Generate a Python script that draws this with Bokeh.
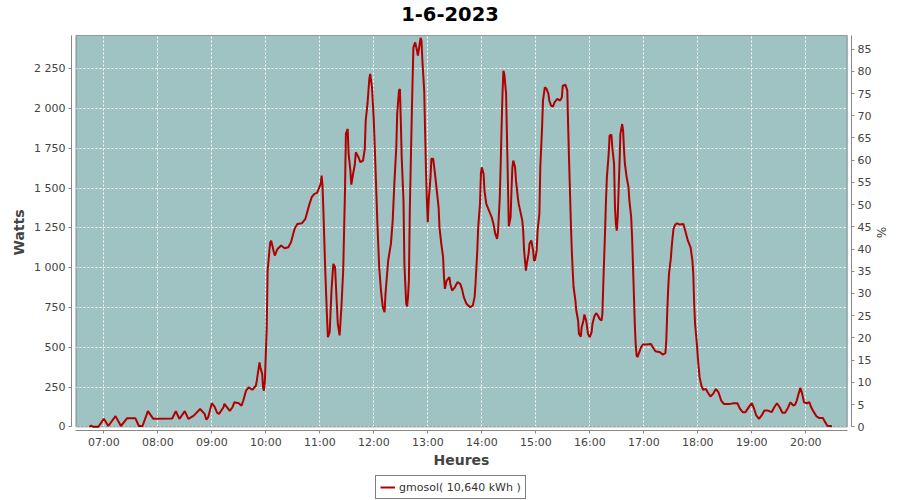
import pandas as pd
from bokeh.plotting import figure
from bokeh.layouts import column
from bokeh.models import (Range1d, LinearAxis, FixedTicker, DatetimeTickFormatter,
                          BoxAnnotation, Legend, LegendItem, Div)
from bokeh.embed import file_html
from bokeh.resources import INLINE

# ---------------- data ----------------
day = "2023-06-01"
title_text = "1-6-2023"
series_name = "gmosol( 10,640 kWh )"
nominal_w = 2793.0   # watts corresponding to 100 %

times = [
    "06:44", "06:46", "06:48", "06:54", "07:00", "07:05", "07:13", "07:19", "07:26", "07:35",
    "07:39", "07:43", "07:49", "07:55", "08:16", "08:20", "08:24", "08:30", "08:34", "08:40",
    "08:47", "08:52", "08:54", "08:56", "09:00", "09:03", "09:06", "09:08", "09:13", "09:14",
    "09:20", "09:23", "09:25", "09:30", "09:33", "09:35", "09:38", "09:41", "09:45", "09:49",
    "09:50", "09:53", "09:54", "09:56", "09:57", "09:58", "09:59", "10:00", "10:01", "10:02",
    "10:04", "10:05", "10:06", "10:09", "10:10", "10:13", "10:17", "10:21", "10:25", "10:28",
    "10:32", "10:35", "10:40", "10:44", "10:48", "10:51", "10:54", "10:57", "11:01", "11:02",
    "11:03", "11:04", "11:06", "11:08", "11:09", "11:11", "11:13", "11:15", "11:17", "11:18",
    "11:20", "11:22", "11:24", "11:26", "11:27", "11:28", "11:29", "11:31", "11:32", "11:34",
    "11:35", "11:37", "11:39", "11:40", "11:43", "11:45", "11:48", "11:50", "11:51", "11:53",
    "11:55", "11:56", "11:58", "12:00", "12:02", "12:04", "12:06", "12:08", "12:10", "12:12",
    "12:13", "12:16", "12:19", "12:21", "12:23", "12:25", "12:26", "12:28", "12:29", "12:30",
    "12:31", "12:33", "12:34", "12:36", "12:37", "12:38", "12:39", "12:40", "12:42", "12:43",
    "12:44", "12:46", "12:48", "12:49", "12:51", "12:52", "12:53", "12:54", "12:56", "12:57",
    "12:58", "12:59", "13:00", "13:01", "13:03", "13:04", "13:06", "13:08", "13:10", "13:12",
    "13:13", "13:15", "13:17", "13:18", "13:19", "13:21", "13:24", "13:25", "13:27", "13:30",
    "13:33", "13:36", "13:38", "13:40", "13:43", "13:47", "13:50", "13:52", "13:53", "13:55",
    "13:56", "13:58", "13:59", "14:00", "14:02", "14:03", "14:05", "14:08", "14:11", "14:13",
    "14:15", "14:17", "14:18", "14:20", "14:21", "14:22", "14:23", "14:24", "14:25", "14:27",
    "14:28", "14:29", "14:30", "14:32", "14:33", "14:34", "14:35", "14:37", "14:38", "14:40",
    "14:41", "14:43", "14:45", "14:46", "14:47", "14:49", "14:50", "14:52", "14:53", "14:55",
    "14:57", "14:58", "14:59", "15:01", "15:02", "15:04", "15:05", "15:07", "15:08", "15:10",
    "15:12", "15:14", "15:15", "15:17", "15:19", "15:21", "15:24", "15:27", "15:29", "15:30",
    "15:33", "15:35", "15:36", "15:37", "15:39", "15:40", "15:41", "15:42", "15:44", "15:45",
    "15:47", "15:48", "15:50", "15:51", "15:53", "15:54", "15:56", "15:58", "16:00", "16:02",
    "16:03", "16:05", "16:07", "16:09", "16:11", "16:13", "16:14", "16:15", "16:17", "16:18",
    "16:19", "16:21", "16:22", "16:24", "16:25", "16:27", "16:28", "16:29", "16:30", "16:31",
    "16:32", "16:33", "16:34", "16:36", "16:37", "16:38", "16:39", "16:41", "16:43", "16:44",
    "16:46", "16:47", "16:49", "16:50", "16:51", "16:52", "16:53", "16:55", "16:57", "16:59",
    "17:03", "17:08", "17:10", "17:13", "17:18", "17:21", "17:24", "17:25", "17:26", "17:27",
    "17:28", "17:30", "17:31", "17:32", "17:33", "17:35", "17:37", "17:40", "17:44", "17:46",
    "17:49", "17:52", "17:54", "17:55", "17:56", "17:57", "17:59", "18:00", "18:01", "18:02",
    "18:04", "18:06", "18:09", "18:11", "18:14", "18:17", "18:20", "18:23", "18:26", "18:29",
    "18:33", "18:36", "18:40", "18:44", "18:47", "18:50", "18:53", "18:57", "19:00", "19:02",
    "19:05", "19:08", "19:11", "19:14", "19:18", "19:22", "19:25", "19:28", "19:31", "19:34",
    "19:37", "19:40", "19:43", "19:46", "19:48", "19:50", "19:52", "19:54", "19:56", "19:58",
    "20:01", "20:04", "20:06", "20:09", "20:12", "20:15", "20:19", "20:21", "20:24", "20:29",
]

watts = [
    0, 8, 0, 0, 50, 5, 67, 5, 54, 54,
    5, 5, 98, 50, 52, 98, 50, 98, 50, 70,
    112, 81, 44, 60, 148, 127, 87, 81, 123, 144,
    100, 123, 154, 148, 133, 165, 227, 248, 233, 258,
    290, 404, 373, 331, 244, 227, 290, 456, 620, 980,
    1108, 1160, 1170, 1097, 1076, 1118, 1139, 1122, 1128, 1160,
    1244, 1275, 1279, 1307, 1390, 1443, 1464, 1470, 1527, 1579,
    1516, 1359, 993, 689, 563, 595, 856, 1024, 1003, 877,
    647, 574, 752, 982, 1233, 1485, 1841, 1872, 1715, 1610,
    1522, 1589, 1652, 1725, 1694, 1663, 1673, 1746, 1924, 2029,
    2186, 2218, 2134, 1924, 1610, 1275, 1003, 856, 752, 720,
    835, 1045, 1150, 1296, 1547, 1757, 1966, 2113, 2123, 1924,
    1694, 1422, 1024, 773, 756, 815, 919, 1359, 1903, 2155,
    2385, 2416, 2364, 2333, 2406, 2444, 2427, 2301, 2113, 1862,
    1610, 1422, 1286, 1422, 1568, 1684, 1684, 1589, 1485, 1380,
    1254, 1150, 1066, 940, 867, 919, 940, 898, 856, 877,
    909, 898, 867, 815, 773, 752, 762, 815, 898, 1108,
    1254, 1401, 1589, 1631, 1589, 1485, 1401, 1359, 1317, 1275,
    1212, 1181, 1223, 1443, 1652, 1882, 2092, 2238, 2218, 2092,
    1820, 1547, 1260, 1317, 1485, 1631, 1673, 1631, 1547, 1443,
    1401, 1349, 1296, 1233, 1108, 982, 1024, 1087, 1150, 1171,
    1108, 1045, 1045, 1108, 1233, 1338, 1631, 1882, 2050, 2134,
    2123, 2092, 2050, 2019, 2012, 2040, 2061, 2050, 2071, 2144,
    2150, 2113, 1882, 1673, 1275, 1108, 982, 877, 794, 731,
    668, 584, 567, 626, 668, 706, 668, 584, 563, 595,
    647, 693, 714, 700, 678, 668, 710, 898, 1233, 1422,
    1568, 1715, 1830, 1836, 1757, 1652, 1380, 1275, 1233, 1317,
    1485, 1652, 1841, 1903, 1862, 1746, 1652, 1568, 1506, 1422,
    1317, 1191, 835, 647, 521, 448, 438, 469, 500, 517,
    517, 521, 500, 475, 469, 454, 463, 542, 710, 856,
    961, 1055, 1129, 1191, 1244, 1271, 1279, 1271, 1275, 1233,
    1170, 1128, 1045, 961, 772, 647, 521, 437, 374, 312,
    259, 232, 238, 217, 190, 207, 238, 217, 165, 144,
    144, 144, 148, 148, 113, 92, 92, 127, 148, 123,
    71, 50, 71, 102, 102, 92, 123, 148, 123, 88,
    88, 117, 154, 134, 138, 165, 207, 245, 207, 154,
    148, 154, 123, 92, 65, 55, 55, 34, 6, 4,
]

watt_ticks = [0, 250, 500, 750, 1000, 1250, 1500, 1750, 2000, 2250]
pct_ticks = list(range(0, 90, 5))
hour_ticks = ["07:00", "08:00", "09:00", "10:00", "11:00", "12:00", "13:00",
              "14:00", "15:00", "16:00", "17:00", "18:00", "19:00", "20:00"]

# ---------------- helpers ----------------
t0 = pd.Timestamp(day)


def ms_of_minutes(m):
    return (t0 + pd.Timedelta(minutes=m)).value / 1e6


def ms_of_hhmm(s):
    return pd.Timestamp(f"{day} {s}").value / 1e6


x_vals = [pd.Timestamp(f"{day} {t}") for t in times]

# plot-area (box) and frame extents (0.9 px per minute, 6.285 W per px)
box_x0, box_x1 = ms_of_minutes(389.0), ms_of_minutes(1246.1)
frm_x0, frm_x1 = ms_of_minutes(384.1), ms_of_minutes(1250.8)
box_y0, box_y1 = 0.0, 2459.3
frm_y0, frm_y1 = -23.3, 2465.6

FONT = "DejaVu Sans"
TXT = "#444444"
AX = "#888888"
W = 900
TOP_H = 34
BOTTOM_B = 44
LEG_H = 500 - TOP_H - 396 - BOTTOM_B

# ---------------- title ----------------
title = Div(text=title_text, width=W, height=TOP_H, margin=0,
            styles={"text-align": "center", "font-family": FONT,
                    "font-size": "19.5px", "font-weight": "bold",
                    "line-height": "29px", "color": "black",
                    "width": f"{W}px", "padding": "0", "margin": "0"})

# ---------------- main chart ----------------
p = figure(frame_width=780, frame_height=396,
           x_axis_type="datetime",
           x_range=Range1d(frm_x0, frm_x1), y_range=Range1d(frm_y0, frm_y1),
           output_backend="svg", toolbar_location=None,
           min_border_left=71, min_border_right=49,
           min_border_top=0, min_border_bottom=BOTTOM_B)

p.background_fill_color = "white"
p.border_fill_color = "white"
p.outline_line_color = None

# plot area background and border
bg = BoxAnnotation(left=box_x0, right=box_x1, bottom=box_y0, top=box_y1,
                   fill_color="#9ec3c2", fill_alpha=1.0, line_color=None, level="image")
p.add_layout(bg)
border = BoxAnnotation(left=box_x0, right=box_x1, bottom=box_y0, top=box_y1,
                       fill_alpha=0.0, line_color="black", line_width=1.2, level="overlay")
p.add_layout(border)

# grid
for g in (p.xgrid[0], p.ygrid[0]):
    g.grid_line_color = "white"
    g.grid_line_dash = "2 2"
    g.grid_line_width = 1

# data line
r = p.line(x_vals, watts, line_color="#b00000", line_width=2)

# x axis
xa = p.xaxis[0]
xa.ticker = FixedTicker(ticks=[ms_of_hhmm(h) for h in hour_ticks])
xa.formatter = DatetimeTickFormatter(minutes="%H:%M", hourmin="%H:%M", hours="%H:%M",
                                     days="%H:%M", months="%H:%M", years="%H:%M")
xa.bounds = (box_x0, box_x1)
xa.axis_label = "Heures"

# left axis
ya = p.yaxis[0]
ya.ticker = FixedTicker(ticks=watt_ticks)
ya.major_label_overrides = {v: f"{v:,}".replace(",", "\u00a0") for v in watt_ticks}
ya.bounds = (box_y0, box_y1)
ya.axis_label = "Watts"

# right axis (percentage)
p.extra_y_ranges = {"pct": Range1d(frm_y0 * 100 / nominal_w, frm_y1 * 100 / nominal_w)}
ra = LinearAxis(y_range_name="pct", ticker=FixedTicker(ticks=pct_ticks),
                bounds=(0, box_y1 * 100 / nominal_w), axis_label="%")
p.add_layout(ra, "right")

for a in (xa, ya, ra):
    a.axis_line_color = AX
    a.major_tick_line_color = AX
    a.major_tick_in = 0
    a.major_tick_out = 3
    a.minor_tick_line_color = None
    a.major_label_text_font = FONT
    a.major_label_text_font_size = "11px"
    a.major_label_text_color = TXT
    a.major_label_standoff = 3
    a.axis_label_text_font = FONT
    a.axis_label_text_font_size = "14px"
    a.axis_label_text_font_style = "bold"
    a.axis_label_text_color = TXT
    a.axis_label_standoff = 4

xa.major_label_standoff = 2
xa.axis_label_standoff = 0
ra.axis_label_text_font_size = "12px"
ra.axis_label_text_font_style = "normal"
ra.axis_label_standoff = 0

# ---------------- legend strip ----------------
# the strip repeats the series outside its visible range so that the legend
# entry has a real renderer to draw its swatch from
leg = figure(frame_width=W, frame_height=LEG_H, min_border=0,
             x_range=Range1d(0, 1), y_range=Range1d(0, 1),
             x_axis_location=None, y_axis_location=None,
             output_backend="svg", toolbar_location=None)
leg.grid.visible = False
leg.outline_line_color = None
leg.background_fill_color = "white"
leg.border_fill_color = "white"
leg_r = leg.line(x_vals, watts, line_color="#b00000", line_width=2)
legend = Legend(items=[LegendItem(label=series_name, renderers=[leg_r])],
                location=(375, LEG_H - 3 - 22), orientation="horizontal",
                border_line_color="black", border_line_width=1,
                margin=0, padding=4, spacing=0,
                glyph_width=15, glyph_height=14, label_height=14,
                label_standoff=4,
                label_text_font=FONT, label_text_font_size="11px",
                label_text_color="#333333",
                background_fill_color="white")
leg.add_layout(legend)

layout = column(title, p, leg, spacing=0)
open("out.html", "w").write(file_html(layout, INLINE))
